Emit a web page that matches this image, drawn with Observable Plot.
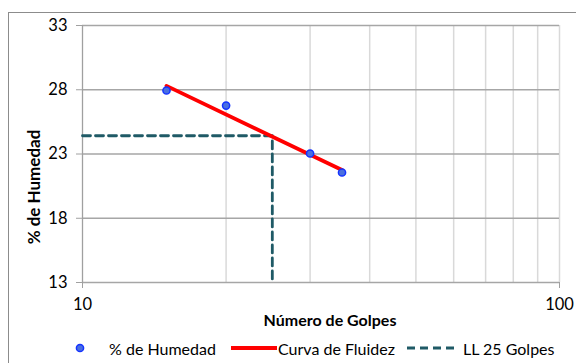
<!DOCTYPE html>
<html>
<head>
<meta charset="utf-8">
<script src="https://cdn.jsdelivr.net/npm/d3@7"></script>
<script src="https://cdn.jsdelivr.net/npm/@observablehq/plot@0.6"></script>
<style>
  html, body { margin: 0; padding: 0; background: #fff; }
  body { width: 576px; height: 363px; position: relative; overflow: hidden; font-family: Lato, "Open Sans", sans-serif; }
  #frame { position: absolute; left: 8px; top: 12px; width: 700px; height: 500px; border: 1px solid #8c8c8c; box-sizing: border-box; }
  #chart { position: absolute; left: 0; top: 0; }
  #legend { position: absolute; left: 0; top: 337px; width: 576px; height: 22px; font-size: 16px; color: #000; }
  .item { position: absolute; top: 0; height: 22px; display: flex; align-items: center; white-space: nowrap; }
  .item svg { display: block; }
</style>
</head>
<body>
<div id="frame"></div>
<div id="chart"></div>
<div id="legend"></div>
<script>
// Data
const xTicks = [10, 100];
const xGrid = [20, 30, 40, 50, 60, 70, 80, 90, 100];
const yTicks = [13, 18, 23, 28, 33];
const golpes = [15, 20, 30, 35];
const humedad = [27.94, 26.77, 23.04, 21.56];
const curvaX = [15, 35];
const curvaY = [28.3, 21.75];
const llX = [10, 25, 25];
const llY = [24.42, 24.42, 13];
const seriesNames = ["% de Humedad", "Curva de Fluidez", "LL 25 Golpes"];
const xTitle = "Número de Golpes";
const yTitle = "% de Humedad";

const puntos = golpes.map((g, i) => ({x: g, y: humedad[i]}));
const curva = curvaX.map((g, i) => ({x: g, y: curvaY[i]}));
const ll = llX.map((g, i) => ({x: g, y: llY[i]}));

const dotFill = "#4a6fe0", dotStroke = "#1433ff";
const red = "#ff0000", teal = "#1f5a66";

const plot = Plot.plot({
  width: 576,
  height: 332,
  marginLeft: 82,
  marginRight: 17,
  marginTop: 25,
  marginBottom: 50,
  style: {fontFamily: "Lato, 'Open Sans', sans-serif", fontSize: "16px", color: "#000", background: "transparent"},
  x: {type: "log", domain: [10, 100], axis: null},
  y: {domain: [13, 33], axis: null},
  marks: [
    Plot.ruleX(xGrid, {stroke: "#d9d9d9", strokeWidth: 1.5}),
    Plot.ruleY(yTicks, {stroke: "#a6a6a6", strokeWidth: 1.3}),
    Plot.ruleX([10], {stroke: "#a0a0a0", strokeWidth: 1.3}),
    Plot.axisY(yTicks, {anchor: "left", tickSize: 6, tickPadding: 9, stroke: "#a0a0a0", fontSize: 16.5, label: null}),
    Plot.axisX(xTicks, {anchor: "bottom", tickSize: 6, tickPadding: 10, stroke: "#a0a0a0", fontSize: 16.5, tickFormat: d3.format("d"), label: null}),
    Plot.line(ll, {x: "x", y: "y", stroke: teal, strokeWidth: 2.8, strokeDasharray: "8,5"}),
    Plot.line(curva, {x: "x", y: "y", stroke: red, strokeWidth: 3.8}),
    Plot.dot(puntos, {x: "x", y: "y", r: 3.6, fill: dotFill, stroke: dotStroke, strokeWidth: 1.5}),
    Plot.text([xTitle], {frameAnchor: "bottom", textAnchor: "middle", dx: 9, dy: 38, lineAnchor: "middle", fontWeight: "bold", fontSize: 16}),
    Plot.text([yTitle], {frameAnchor: "left", textAnchor: "middle", rotate: -90, dx: -48, dy: 33, lineAnchor: "middle", fontWeight: "bold", fontSize: 17})
  ]
});
document.getElementById("chart").appendChild(plot);

// Legend
const legend = document.getElementById("legend");
const items = [
  {left: 74, swatch: `<svg width="12" height="12"><circle cx="6" cy="6" r="3.6" fill="${dotFill}" stroke="${dotStroke}" stroke-width="1.5"/></svg>`, gap: 23, text: seriesNames[0]},
  {left: 231, swatch: `<svg width="46" height="12"><line x1="0" x2="46" y1="6" y2="6" stroke="${red}" stroke-width="3.8"/></svg>`, gap: 1, text: seriesNames[1]},
  {left: 407, swatch: `<svg width="51" height="12"><line x1="0" x2="51" y1="6" y2="6" stroke="${teal}" stroke-width="2.8" stroke-dasharray="8,5"/></svg>`, gap: 5, text: seriesNames[2]}
];
for (const it of items) {
  const d = document.createElement("div");
  d.className = "item";
  d.style.left = it.left + "px";
  d.innerHTML = it.swatch + `<span style="margin-left:${it.gap}px">${it.text}</span>`;
  legend.appendChild(d);
}
</script>
</body>
</html>
